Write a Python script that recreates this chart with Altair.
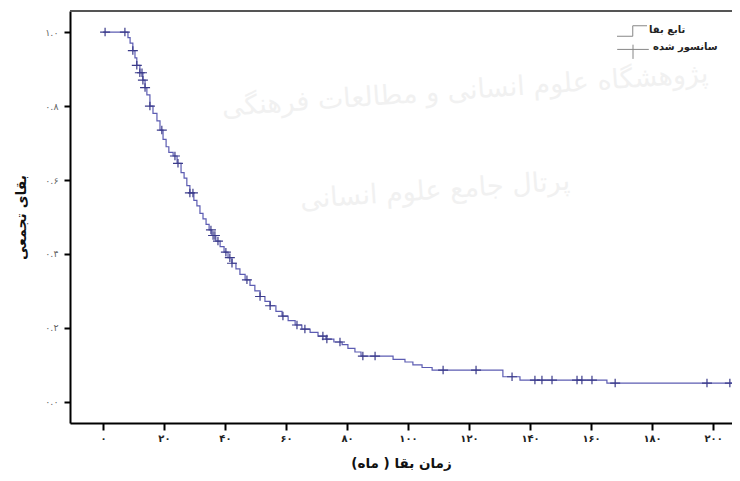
import altair as alt
import pandas as pd
import numpy as np

# Kaplan-Meier step points (time in months, cumulative survival)
step_times = [0, 8.2, 8.9, 9.8, 10.5, 11.1, 12.1, 13.1, 13.8, 14.4, 15.4, 16.4, 17.7,
              18.7, 19.7, 20.7, 21.6, 23.0, 24.3, 25.6, 26.6, 27.5, 28.5, 29.8, 30.8,
              31.8, 32.8, 33.8, 34.8, 35.7, 37.0, 38.4, 39.7, 41.0, 42.3, 43.6, 44.9,
              46.6, 48.2, 49.8, 51.5, 53.1, 54.8, 56.7, 58.7, 60.7, 63.0, 65.2, 67.9,
              70.5, 73.1, 75.7, 78.4, 80.3, 82.6, 84.6, 95.1, 99.0, 101.6, 104.6, 107.9,
              131.1, 136.7, 165.2]
step_surv = [1.0, 0.985, 0.97, 0.95, 0.93, 0.91, 0.89, 0.87, 0.85, 0.83, 0.80, 0.78, 0.76,
             0.735, 0.71, 0.69, 0.675, 0.665, 0.645, 0.62, 0.605, 0.585, 0.565, 0.545, 0.53,
             0.51, 0.495, 0.48, 0.465, 0.45, 0.435, 0.42, 0.405, 0.39, 0.375, 0.36, 0.345,
             0.33, 0.315, 0.30, 0.285, 0.272, 0.26, 0.245, 0.232, 0.22, 0.208, 0.197, 0.188,
             0.178, 0.17, 0.162, 0.155, 0.145, 0.135, 0.124, 0.115, 0.108, 0.10, 0.093, 0.086,
             0.068, 0.059, 0.051]
end_time = 208.9
censor_times = [0.7, 7.2, 9.8, 11.1, 12.1, 12.8, 13.1, 13.8, 15.4, 19.3, 23.6, 24.6, 28.5,
                29.5, 35.4, 36.1, 36.7, 37.7, 40.3, 41.6, 42.3, 47.2, 51.5, 54.8, 59.0, 63.6,
                66.2, 72.1, 73.4, 77.7, 85.2, 89.2, 111.5, 122.3, 134.1, 141.6, 143.9, 147.2,
                155.4, 157.0, 160.3, 167.9, 198.0, 205.5]

x_ticks = [0, 20, 40, 60, 80, 100, 120, 140, 160, 180, 200]
x_labels = ["۰", "۲۰", "۴۰", "۶۰", "۸۰", "۱۰۰", "۱۲۰", "۱۴۰", "۱۶۰", "۱۸۰", "۲۰۰"]
y_ticks = [0.0, 0.2, 0.4, 0.6, 0.8, 1.0]
y_labels = ["۰.۰", "۰.۲", "۰.۴", "۰.۶", "۰.۸", "۱.۰"]

x_title = "زمان بقا ( ماه)"
y_title = "بقای تجمعی"
legend_labels = ["تابع بقا", "سانسور شده"]
watermark = ["پژوهشگاه علوم انسانی و مطالعات فرهنگی", "پرتال جامع علوم انسانی"]

km = pd.DataFrame({"t": step_times + [end_time], "s": step_surv + [step_surv[-1]]})
idx = np.searchsorted(np.array(step_times), np.array(censor_times), side="right") - 1
cens = pd.DataFrame({"t": censor_times, "s": np.array(step_surv)[idx]})


def label_expr(vals, labs):
    expr = "''"
    for v, l in reversed(list(zip(vals, labs))):
        expr = f"abs(datum.value - {v}) < 1e-6 ? '{l}' : ({expr})"
    return expr


FONT = "DejaVu Sans"
W, H = 662, 412
LINE_COLOR = "#5c5cb2"
CROSS_COLOR = "#3b3b8a"
PLUS = "M-1,0L1,0M0,-0.85L0,0.85"

xscale = alt.Scale(domain=[-10.8, 206.2], nice=False, zero=False)
yscale = alt.Scale(domain=[-0.057, 1.057], nice=False, zero=False)

xaxis = alt.Axis(values=x_ticks, labelExpr=label_expr(x_ticks, x_labels), title=x_title,
                 grid=False, domainColor="black", domainWidth=2, tickColor="black",
                 tickWidth=2, tickSize=7, labelFont=FONT, labelFontSize=10,
                 labelFontWeight="bold", labelColor="#222", labelPadding=3,
                 titleFont=FONT, titleFontSize=13.5, titleFontWeight="bold",
                 titleColor="#111", titlePadding=13)
yaxis = alt.Axis(values=y_ticks, labelExpr=label_expr(y_ticks, y_labels), title=y_title,
                 grid=False, domainColor="black", domainWidth=2, tickColor="black",
                 tickWidth=2, tickSize=6, labelFont=FONT, labelFontSize=9.5,
                 labelColor="#666", labelPadding=6,
                 titleFont=FONT, titleFontSize=14, titleFontWeight="bold",
                 titleColor="#111", titlePadding=16)

one = pd.DataFrame({"a": [0]})

wm1 = alt.Chart(one).mark_text(text=watermark[0], font=FONT, fontSize=27, color="#f1f1f1",
                              angle=356).encode(x=alt.value(395), y=alt.value(80))
wm2 = alt.Chart(one).mark_text(text=watermark[1], font=FONT, fontSize=27, color="#f1f1f1",
                              angle=356).encode(x=alt.value(365), y=alt.value(180))

line = alt.Chart(km).mark_line(interpolate="step-after", color=LINE_COLOR, strokeWidth=1.2,
                               clip=True).encode(
    x=alt.X("t:Q", scale=xscale, axis=xaxis),
    y=alt.Y("s:Q", scale=yscale, axis=yaxis),
)
pts = alt.Chart(cens).mark_point(shape=PLUS, size=100, filled=False, color=CROSS_COLOR,
                                 strokeWidth=1.2, opacity=1).encode(
    x=alt.X("t:Q", scale=xscale),
    y=alt.Y("s:Q", scale=yscale),
)

top_border = alt.Chart(one).mark_rule(color="#555", strokeWidth=2).encode(
    x=alt.value(0), x2=alt.value(W), y=alt.value(0))

leg_step = alt.Chart(one).mark_point(shape="M-1,0.35L0.05,0.35L0.05,-0.35L1,-0.35", size=900,
                                     filled=False, color="#555", strokeWidth=1).encode(
    x=alt.value(562), y=alt.value(20))
leg_plus = alt.Chart(one).mark_point(shape="M-1,-0.1L1,-0.1M0,-0.4L0,0.5", size=1000,
                                     filled=False, color="#555", strokeWidth=1).encode(
    x=alt.value(563), y=alt.value(40))
leg_t1 = alt.Chart(one).mark_text(text=legend_labels[0], font=FONT, fontSize=10,
                                  fontWeight="bold", align="left", color="#222").encode(
    x=alt.value(579), y=alt.value(19))
leg_t2 = alt.Chart(one).mark_text(text=legend_labels[1], font=FONT, fontSize=10,
                                  fontWeight="bold", align="left", color="#222").encode(
    x=alt.value(583), y=alt.value(36))

chart = alt.layer(wm1, wm2, line, pts, top_border, leg_step, leg_plus, leg_t1, leg_t2).properties(
    width=W, height=H,
    autosize=alt.AutoSizeParams(type="none"),
    padding={"left": 62, "top": 3, "right": 0, "bottom": 50},
).configure_view(stroke=None).configure(background="white")

chart.save("out.html", embed_options={"renderer": "svg", "actions": False})
